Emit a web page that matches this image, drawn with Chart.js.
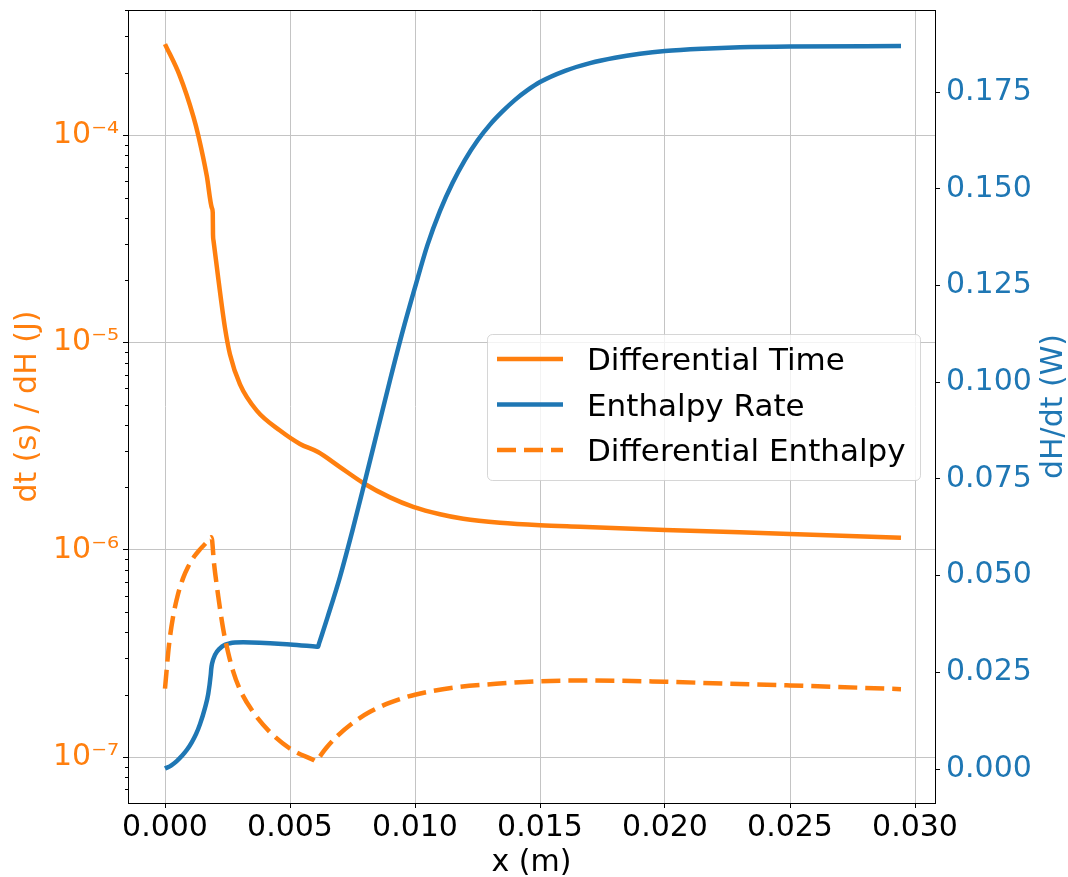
<!DOCTYPE html>
<html>
<head>
<meta charset="utf-8">
<script src="https://cdn.jsdelivr.net/npm/chart.js@4.4.0/dist/chart.umd.min.js"></script>
<style>
  html, body { margin: 0; padding: 0; background: #fff; }
  #wrap { width: 1068px; height: 877px; position: relative; }
</style>
</head>
<body>
<div id="wrap"><canvas id="myChart"></canvas></div>
<script>
// position along the channel (m) and the three profiles
const timeX = [0, 0.0006, 0.00113, 0.00133, 0.00167, 0.00188, 0.00191, 0.00192, 0.00194, 0.00213, 0.0024, 0.0026,
  0.003, 0.00367, 0.0046, 0.0054, 0.00612, 0.007, 0.00793, 0.009, 0.00993, 0.011, 0.01193, 0.0134,
  0.015, 0.0166, 0.020, 0.025, 0.02944];
const timeVals = [2.753e-4, 1.924e-4, 1.238e-4, 1.0e-4, 6.38e-5, 4.44e-5, 4.23e-5, 3.32e-5, 3.10e-5, 2.04e-5, 1.175e-5, 8.75e-6,
  6.28e-6, 4.69e-6, 3.76e-6, 3.24e-6, 2.96e-6, 2.505e-6, 2.10e-6, 1.789e-6, 1.611e-6, 1.483e-6, 1.411e-6, 1.35e-6,
  1.313e-6, 1.291e-6, 1.246e-6, 1.192e-6, 1.144e-6];

const rateX = [0, 0.00024, 0.00047, 0.00068, 0.00087, 0.00107, 0.00124, 0.0014, 0.0016, 0.00173, 0.00183, 0.00185,
  0.00188, 0.002, 0.0022, 0.0024, 0.0026, 0.0028, 0.00313, 0.005, 0.00608, 0.00612, 0.00616, 0.0065, 0.0070,
  0.0075, 0.0080, 0.0085, 0.0090, 0.0095, 0.0100, 0.0105, 0.0110, 0.0115, 0.0120, 0.0125, 0.0130,
  0.0135, 0.0140, 0.0145, 0.0150, 0.0160, 0.0170, 0.0180, 0.0190, 0.0200, 0.0215, 0.0230, 0.0250, 0.02944];
const rateVals = [0.0001, 0.0009, 0.00205, 0.0034, 0.0049, 0.0069, 0.0090, 0.0116, 0.0158, 0.0194, 0.0244, 0.0259,
  0.0272, 0.0295, 0.0312, 0.0321, 0.0325, 0.0327, 0.0328, 0.0322, 0.03162, 0.0316, 0.0324, 0.0392, 0.0497,
  0.0617, 0.0745, 0.0875, 0.1005, 0.1130, 0.1245, 0.1355, 0.1443, 0.1515, 0.1575, 0.1625, 0.1666,
  0.1700, 0.1730, 0.1755, 0.1776, 0.1805, 0.1825, 0.1839, 0.1849, 0.1856, 0.1862, 0.18658, 0.1868, 0.1869];

const enthX = [0, 0.00016, 0.00032, 0.00052, 0.00072, 0.00092, 0.00116, 0.0014, 0.00164, 0.00186, 0.00196, 0.00213,
  0.00233, 0.00252, 0.00272, 0.003, 0.00353, 0.0042, 0.005, 0.00596, 0.00604, 0.00612, 0.00644, 0.00692, 0.00756, 0.0082,
  0.009, 0.010, 0.0116, 0.01324, 0.015, 0.01716, 0.020, 0.02256, 0.025, 0.02944];
const enthVals = [2.137e-7, 3.473e-7, 4.732e-7, 6.098e-7, 7.277e-7, 8.26e-7, 9.248e-7, 1.0044e-6, 1.0767e-6, 1.1504e-6, 8.614e-7, 5.965e-7,
  4.13e-7, 3.214e-7, 2.606e-7, 2.113e-7, 1.645e-7, 1.319e-7, 1.098e-7, 9.654e-8, 9.55e-8, 9.80e-8, 1.102e-7, 1.272e-7, 1.476e-7, 1.652e-7,
  1.831e-7, 1.998e-7, 2.166e-7, 2.254e-7, 2.322e-7, 2.340e-7, 2.308e-7, 2.258e-7, 2.216e-7, 2.126e-7];

// tick positions
const xTicks = [0, 0.005, 0.010, 0.015, 0.020, 0.025, 0.030];
const rateTicks = [0, 0.025, 0.050, 0.075, 0.100, 0.125, 0.150, 0.175];
const decadeExps = [-8, -7, -6, -5, -4, -3];

const orange = '#ff7f0e';
const blue = '#1f77b4';
const gridColor = '#c4c4c4';
const font = { family: 'DejaVu Sans', size: 30 };
const logMin = 6.34e-8;
const logMax = 4.02e-4;

const supChars = { '-': '\u207b', '0': '\u2070', '1': '\u00b9', '2': '\u00b2', '3': '\u00b3', '4': '\u2074',
  '5': '\u2075', '6': '\u2076', '7': '\u2077', '8': '\u2078', '9': '\u2079' };

function toPoints(xs, ys) {
  return xs.map((x, i) => ({ x: x, y: ys[i] }));
}

function isDecade(v) {
  const e = Math.log10(v);
  return Math.abs(e - Math.round(e)) < 1e-9;
}

function decadeLabel(v) {
  const e = Math.round(Math.log10(v));
  return '10' + String(e).split('').map(c => supChars[c]).join('');
}

// 1..9 x 10^n inside the visible range
function logTicks() {
  const out = [];
  decadeExps.forEach(e => {
    for (let m = 1; m <= 9; m++) {
      const v = Number((m * Math.pow(10, e)).toPrecision(3));
      if (v >= logMin && v <= logMax) out.push({ value: v, major: m === 1 });
    }
  });
  return out;
}

// fixed axis sizes, no extra room for overhanging labels
function fixSize(size) {
  return s => {
    if (s.isHorizontal()) s.height = size; else s.width = size;
    s.paddingTop = 0;
    s.paddingBottom = 0;
    s.paddingLeft = 0;
    s.paddingRight = 0;
  };
}

const extrasPlugin = {
  id: 'extras',
  afterDraw(chart) {
    const c = chart.ctx;
    const a = chart.chartArea;
    const yLeft = chart.scales.yLeft;
    c.save();

    // top spine
    c.strokeStyle = '#000';
    c.lineWidth = 1;
    c.beginPath();
    c.moveTo(a.left, Math.round(a.top) + 0.5);
    c.lineTo(a.right + 0.5, Math.round(a.top) + 0.5);
    c.stroke();

    // minor ticks on the log axis
    yLeft.ticks.forEach(t => {
      if (t.major) return;
      const y = Math.round(yLeft.getPixelForValue(t.value)) + 0.5;
      c.beginPath();
      c.moveTo(a.left - 3, y);
      c.lineTo(a.left, y);
      c.stroke();
    });

    // axis titles
    c.font = '30px "DejaVu Sans"';
    c.textBaseline = 'alphabetic';
    c.textAlign = 'center';
    c.fillStyle = '#000';
    c.fillText('x (m)', (a.left + a.right) / 2, 871);

    const midY = (a.top + a.bottom) / 2;
    c.save();
    c.translate(36, midY);
    c.rotate(-Math.PI / 2);
    c.fillStyle = orange;
    c.fillText('dt (s) / dH (J)', 0, 0);
    c.restore();

    c.save();
    c.translate(1062, midY);
    c.rotate(-Math.PI / 2);
    c.fillStyle = blue;
    c.fillText('dH/dt (W)', 0, 0);
    c.restore();

    // legend
    const bx = 487, by = 334, bw = 433, bh = 146;
    c.beginPath();
    c.roundRect(bx + 0.5, by + 0.5, bw, bh, 5);
    c.fillStyle = 'rgba(255,255,255,0.8)';
    c.fill();
    c.strokeStyle = 'rgba(204,204,204,0.8)';
    c.lineWidth = 1;
    c.stroke();

    const rows = [
      { label: 'Differential Time', color: orange, dash: [] },
      { label: 'Enthalpy Rate', color: blue, dash: [] },
      { label: 'Differential Enthalpy', color: orange, dash: [19, 8] }
    ];
    c.font = '31px "DejaVu Sans"';
    rows.forEach((r, i) => {
      const y = 359 + i * 45.5;
      c.beginPath();
      c.setLineDash(r.dash);
      c.strokeStyle = r.color;
      c.lineWidth = 4.5;
      c.moveTo(497, y);
      c.lineTo(563, y);
      c.stroke();
      c.setLineDash([]);
      c.fillStyle = '#000';
      c.textAlign = 'left';
      c.fillText(r.label, 587, y + 11);
    });

    c.restore();
  }
};

const ctx = document.getElementById('myChart');

new Chart(ctx, {
  type: 'line',
  data: {
    datasets: [
      {
        label: 'Differential Time',
        data: toPoints(timeX, timeVals),
        yAxisID: 'yLeft',
        borderColor: orange,
        borderWidth: 4.5,
        order: 3
      },
      {
        label: 'Enthalpy Rate',
        data: toPoints(rateX, rateVals),
        yAxisID: 'yRight',
        borderColor: blue,
        borderWidth: 4.5,
        order: 2
      },
      {
        label: 'Differential Enthalpy',
        data: toPoints(enthX, enthVals),
        yAxisID: 'yLeft',
        borderColor: orange,
        borderWidth: 4.5,
        borderDash: [19, 8],
        order: 1
      }
    ]
  },
  options: {
    responsive: true,
    maintainAspectRatio: false,
    animation: false,
    layout: { padding: { top: 10, left: 0, right: 0, bottom: 0 } },
    elements: {
      point: { radius: 0 },
      line: { cubicInterpolationMode: 'monotone', fill: false }
    },
    plugins: {
      legend: { display: false },
      tooltip: { enabled: false }
    },
    scales: {
      x: {
        type: 'linear',
        min: -0.00148,
        max: 0.0308,
        afterBuildTicks: s => { s.ticks = xTicks.map(v => ({ value: v })); },
        afterFit: fixSize(74),
        ticks: {
          font: font,
          color: '#000',
          autoSkip: false,
          maxRotation: 0,
          padding: 2,
          callback: v => v.toFixed(3)
        },
        grid: { color: gridColor, tickColor: '#000', tickLength: 5 },
        border: { color: '#000', width: 1 }
      },
      yLeft: {
        type: 'logarithmic',
        position: 'left',
        min: logMin,
        max: logMax,
        afterBuildTicks: s => { s.ticks = logTicks(); },
        afterFit: fixSize(128),
        ticks: {
          font: font,
          color: orange,
          autoSkip: false,
          padding: 4,
          callback: v => (isDecade(v) ? decadeLabel(v) : '')
        },
        grid: {
          color: c => (c.tick && c.tick.major ? gridColor : 'rgba(0,0,0,0)'),
          tickColor: c => (c.tick && c.tick.major ? '#000' : 'rgba(0,0,0,0)'),
          tickLength: 5
        },
        border: { color: '#000', width: 1 }
      },
      yRight: {
        type: 'linear',
        position: 'right',
        min: -0.00879,
        max: 0.19623,
        afterBuildTicks: s => { s.ticks = rateTicks.map(v => ({ value: v })); },
        afterFit: fixSize(133),
        ticks: {
          font: font,
          color: blue,
          autoSkip: false,
          padding: 6,
          callback: v => v.toFixed(3)
        },
        grid: { drawOnChartArea: false, tickColor: '#000', tickLength: 5 },
        border: { color: '#000', width: 1 }
      }
    }
  },
  plugins: [extrasPlugin]
});
</script>
</body>
</html>
